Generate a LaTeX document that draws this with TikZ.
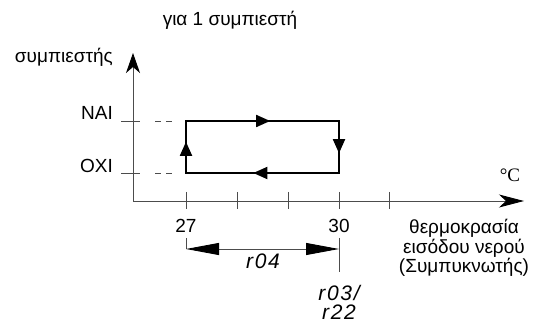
\documentclass[tikz,border=0pt]{standalone}
\usepackage{fontspec}
\setmainfont{Liberation Sans}
\newfontfamily\unitfont{Liberation Serif}
\usetikzlibrary{arrows.meta,positioning,calc,decorations.markings}

\begin{document}
\begin{tikzpicture}[x=1pt, y=-1pt,
  >=Stealth, font=\fontsize{19}{17}\selectfont,
  axis/.style={draw=black!70, line width=0.9pt},
  cycle/.style={draw=black, line width=1.8pt},
  guide/.style={draw=black!70, line width=0.9pt, dash pattern=on 6pt off 5pt},
  lab/.style={inner sep=0pt},
  code/.style={inner sep=0pt, font=\fontsize{21}{20}\selectfont\itshape\addfontfeatures{LetterSpace=8}},
  flowat/.style={postaction={decorate}, decoration={markings,
    mark=at position #1 with {\arrow{Triangle[length=14pt,width=12pt]}}}}]
  \useasboundingbox (0,0) rectangle (533,323);
  % axes
  \coordinate (orig) at (133,201);
  \coordinate (ytop) at (133,53);
  \coordinate (xend) at (524,201);
  \draw[axis, -{Stealth[length=20pt,width=14pt,inset=6pt,color=black]}] (orig) -- (ytop);
  \draw[axis, -{Stealth[length=25pt,width=13pt,inset=7pt,color=black]}] (orig) -- (xend);
  \foreach \x in {186,237,288,339,389}
    \draw[axis] (\x,192) -- (\x,209);
  % levels
  \coordinate (offL) at (121,173);
  \coordinate (onL) at (121,121);
  \draw[axis] (offL) -- ++(19,0);
  \draw[axis] (onL) -- ++(19,0);
  \draw[guide] (155,173) -- (172,173);
  \draw[guide] (155,121) -- (172,121);
  % switching loop
  \coordinate (lo27) at (186,173);
  \coordinate (hi27) at (186,121);
  \coordinate (hi30) at (339,121);
  \coordinate (lo30) at (339,173);
  \draw[cycle, flowat=0.6] (lo27) -- (hi27);
  \draw[cycle, flowat=0.55] (hi27) -- (hi30);
  \draw[cycle, flowat=0.62] (hi30) -- (lo30);
  \draw[cycle, flowat=0.56] (lo30) -- (lo27);
  \draw[cycle, line cap=rect] (lo27) -- (hi27) -- (hi30) -- (lo30) -- cycle;
  % labels
  \node[lab, anchor=base] (title) at (230,26) {για 1 συμπιεστή};
  \node[lab, anchor=base east] (ylab) at (113,63) {συμπιεστής};
  \node[lab, anchor=base east] (yes) at (113,120) {NAI};
  \node[lab, anchor=base east] (no) at (113,173) {OXI};
  \node[lab, anchor=base, font=\fontsize{19}{18}\unitfont] (unit) at (510,182) {°C};
  \node[lab, align=center] (xlab) at (464,248) {θερμοκρασία\\εισόδου νερού\\(Συμπυκνωτής)};
  \node[lab, anchor=base] (t27) at (186,233) {27};
  \node[lab, anchor=base] (t30) at (339,233) {30};
  % differential
  \coordinate (d27) at (186,238);
  \coordinate (d30) at (339,238);
  \coordinate (e27) at (186,249);
  \coordinate (e30) at (339,249);
  \draw[axis] (d27) -- (e27);
  \draw[axis] (d30) -- (339,272);
  \draw[axis, {Triangle[length=33pt,width=12pt,color=black]}-{Triangle[length=33pt,width=12pt,color=black]}] (e27) -- (e30);
  \node[code, anchor=base] (diff) at (263,269) {r04};
  \node[code, anchor=base] (setp) at (339,300) {r03/};
  \node[code, anchor=base] (setq) at (339,319) {r22};
\end{tikzpicture}
\end{document}
